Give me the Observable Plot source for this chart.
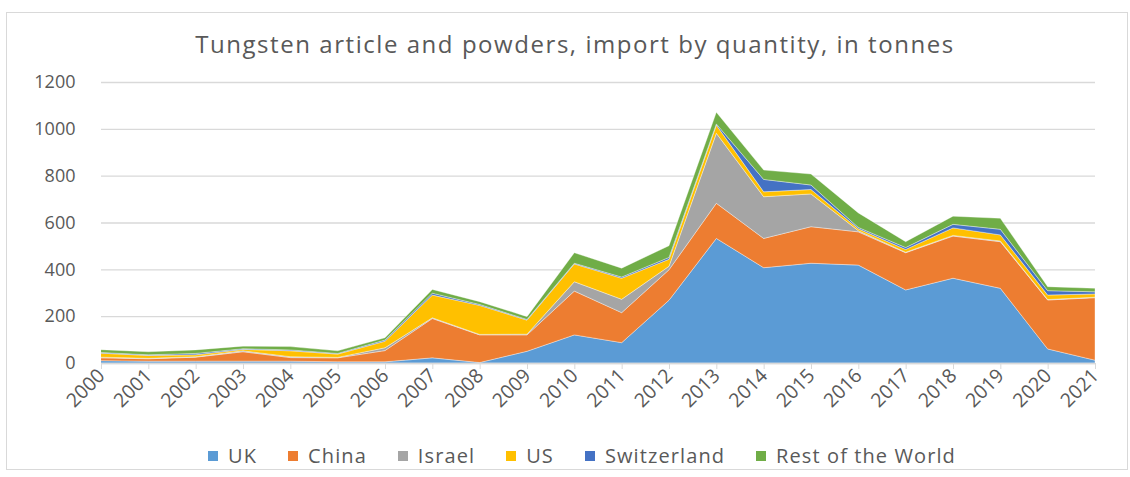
<!DOCTYPE html>
<html>
<head>
<meta charset="utf-8">
<script src="https://cdn.jsdelivr.net/npm/d3@7"></script>
<script src="https://cdn.jsdelivr.net/npm/@observablehq/plot@0.6"></script>
<style>
  html, body { margin: 0; padding: 0; background: #fff; }
  body { width: 1130px; height: 477px; position: relative; overflow: hidden; font-family: "Open Sans", sans-serif; color: #595959; }
  #frame { position: absolute; left: 6px; top: 12px; width: 1122px; height: 458px; border: 1px solid #d9d9d9; box-sizing: border-box; }
  #title { position: absolute; left: 10px; width: 1130px; top: 27px; text-align: center; font-size: 24px; letter-spacing: 1.55px; color: #595959; }
  #chart { position: absolute; left: 0; top: 70px; }
  #legend { position: absolute; left: 17px; width: 1130px; top: 442px; display: flex; justify-content: center; gap: 31px; font-size: 20px; letter-spacing: 1.1px; color: #595959; }
  .item { display: flex; align-items: center; gap: 10px; }
  .sw { width: 10px; height: 10px; display: inline-block; }
</style>
</head>
<body>
<div id="frame"></div>
<div id="title">Tungsten article and powders, import by quantity, in tonnes</div>
<div id="chart"></div>
<div id="legend"></div>
<script>
const years = [2000,2001,2002,2003,2004,2005,2006,2007,2008,2009,2010,2011,2012,2013,2014,2015,2016,2017,2018,2019,2020,2021];
const seriesNames = ["UK","China","Israel","US","Switzerland","Rest of the World"];
const colors = ["#5B9BD5","#ED7D31","#A5A5A5","#FFC000","#4472C4","#70AD47"];
const uk          = [10, 8, 8, 8, 8, 5, 5, 22, 2, 50,120, 87,268,532,407,426,418,312,362,319, 60, 12];
const china       = [12,10,17,40,15,17,48,168,118,70,187,128,130,150,125,156,142,159,180,199,209,267];
const israel      = [ 3, 2, 2, 4, 4, 2,12, 3, 2, 3, 40, 57, 15,299,178,140,  5,  2,  3,  3,  2,  2];
const us          = [17,12, 8, 6,25,14,28, 97,124,60, 76, 90, 30, 35, 21, 19,  8, 12, 32, 26, 19, 14];
const switzerland = [ 3, 3, 6, 3, 4, 3, 5, 8, 4, 3,  3,  5,  8,  5, 53, 19,  6,  8, 15, 24, 19,  9];
const restOfWorld = [12,13,15,11,14,11,10, 16, 12,12, 45, 38, 50, 50, 40, 47, 62, 25, 35, 47, 17, 15];
const yTicks = [0,200,400,600,800,1000,1200];

const seriesValues = [uk, china, israel, us, switzerland, restOfWorld];
const data = [];
seriesNames.forEach((name, i) => {
  years.forEach((y, j) => data.push({year: y, country: name, value: seriesValues[i][j]}));
});

const chart = Plot.plot({
  width: 1130,
  height: 360,
  marginLeft: 101,
  marginRight: 35,
  marginTop: 12,
  marginBottom: 67,
  style: {fontFamily: "Open Sans, sans-serif", color: "#595959", background: "transparent"},
  x: {domain: [2000, 2021], ticks: years, tickFormat: d => String(d), label: null},
  y: {domain: [0, 1200], ticks: yTicks, label: null},
  color: {domain: seriesNames, range: colors},
  marks: [
    Plot.gridY(yTicks, {stroke: "#d9d9d9", strokeOpacity: 1, strokeWidth: 1.3}),
    Plot.areaY(data, {x: "year", y: "value", fill: "country", z: "country", order: seriesNames, stroke: "#ffffff", strokeWidth: 0.6, strokeOpacity: 0.6}),
    Plot.ruleY([0], {stroke: "#d9d9d9", strokeWidth: 1.3}),
    Plot.axisY(yTicks, {tickSize: 0, tickPadding: 26, fontSize: 18, fill: "#595959", tickFormat: d => String(d), label: null}),
    Plot.axisX(years, {tickSize: 6, stroke: "#d9d9d9", tickRotate: -45, tickPadding: 3, fontSize: 19.5, fill: "#595959", tickFormat: d => String(d), label: null})
  ]
});
document.getElementById("chart").appendChild(chart);

const legend = document.getElementById("legend");
seriesNames.forEach((name, i) => {
  const it = document.createElement("div");
  it.className = "item";
  const sw = document.createElement("span");
  sw.className = "sw";
  sw.style.background = colors[i];
  const tx = document.createElement("span");
  tx.textContent = name;
  it.appendChild(sw); it.appendChild(tx);
  legend.appendChild(it);
});
</script>
</body>
</html>
